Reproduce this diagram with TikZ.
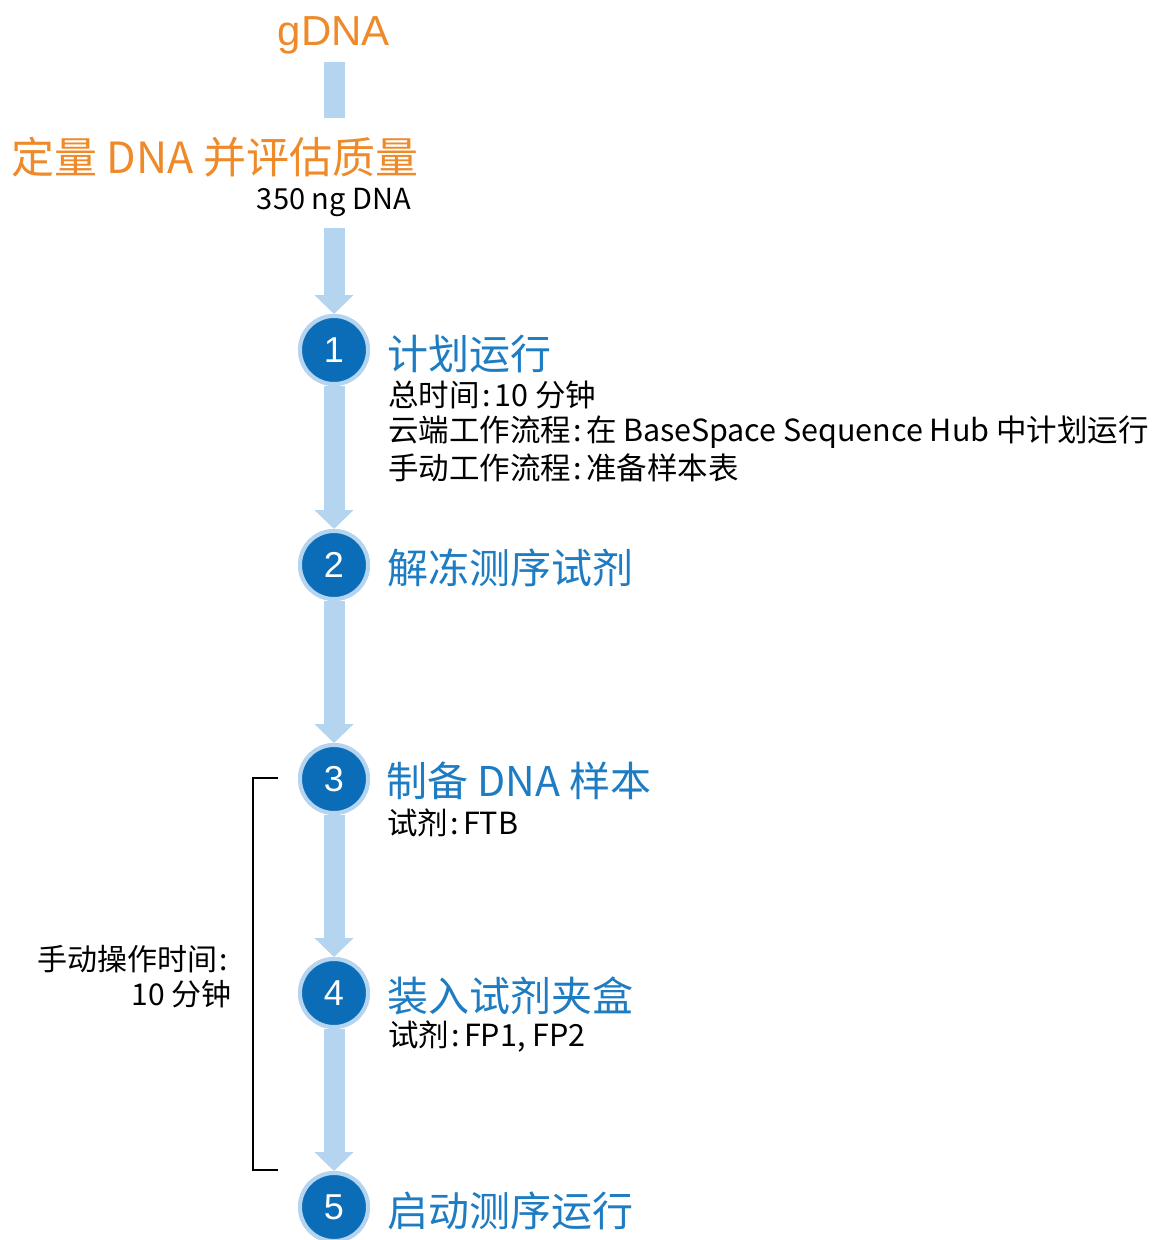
\documentclass[tikz,border=0pt]{standalone}
\usepackage{fontspec}
\setmainfont{Noto Sans CJK SC}
\newfontfamily\arialf{Liberation Sans}
\usetikzlibrary{arrows.meta}
\definecolor{orng}{HTML}{EE8A2A}
\definecolor{dblue}{HTML}{0B6DB7}
\definecolor{lblue}{HTML}{B5D4EF}
\definecolor{tblue}{HTML}{1E7CC2}
\newcommand{\ncolon}{\kern0.09em:\kern0.12em}
\tikzset{
  stepcircle/.style={circle, fill=dblue, draw=lblue, line width=4pt, minimum size=68pt, inner sep=0pt, text=white, font=\arialf\fontsize{36}{38}\selectfont},
  shaft/.style={draw=lblue, line width=21pt},
  shaftarrow/.style={shaft, -{Triangle[width=38pt,length=19pt]}},
  titletext/.style={anchor=west, inner sep=0pt, text=tblue, font=\fontsize{41}{44}\selectfont},
  subtext/.style={anchor=west, inner sep=0pt, text=black, font=\fontsize{30.5}{32}\selectfont},
  sidetext/.style={anchor=east, inner sep=0pt, text=black, font=\fontsize{30}{32}\selectfont},
  bracketline/.style={draw=black, line width=1.6pt}
}
\begin{document}
\begin{tikzpicture}[x=1pt,y=-1pt]
\useasboundingbox (0,0) rectangle (1153,1240);
\clip (0,0) rectangle (1153,1240);
% top
\node[inner sep=0pt, text=orng, font=\arialf\fontsize{42}{44}\selectfont] (gdna) at (334,35) {gDNA};
\node[anchor=west, inner sep=0pt, text=orng, font=\fontsize{43}{46}\selectfont] (qual) at (11,157) {定量 DNA 并评估质量};
\node[anchor=east, inner sep=0pt, text=black, font=\fontsize{29}{32}\selectfont] (amt) at (411,202) {350 ng DNA};
\coordinate (b1) at (334,62);
\coordinate (b2) at (334,118);
\coordinate (b3) at (334,228);
% circle positions
\node[stepcircle] (c1) at (334,350) {1};
\node[stepcircle] (c2) at (334,565) {2};
\node[stepcircle] (c3) at (334,779) {3};
\node[stepcircle] (c4) at (334,993) {4};
\node[stepcircle] (c5) at (334,1207) {5};
% connectors
\draw[shaft] (b1) -- (b2);
\draw[shaftarrow] (b3) -- (c1.north);
\draw[shaftarrow] (c1.south) -- (c2.north);
\draw[shaftarrow] (c2.south) -- (c3.north);
\draw[shaftarrow] (c3.south) -- (c4.north);
\draw[shaftarrow] (c4.south) -- (c5.north);
% circles on top of connectors
\node[stepcircle] at (c1) {1};
\node[stepcircle] at (c2) {2};
\node[stepcircle] at (c3) {3};
\node[stepcircle] at (c4) {4};
\node[stepcircle] at (c5) {5};
% titles
\node[titletext] (t1) at (387,354) {计划运行};
\node[subtext] (s1a) at (388,395) {总时间\ncolon 10 分钟};
\node[subtext] (s1b) at (388,432) {云端工作流程\ncolon 在 BaseSpace Sequence Hub 中计划运行};
\node[subtext] (s1c) at (388,468) {手动工作流程\ncolon 准备样本表};
\node[titletext] (t2) at (387,568) {解冻测序试剂};
\node[titletext] (t3) at (386,781) {制备 DNA 样本};
\node[subtext] (s3) at (387,823) {试剂\ncolon FTB};
\node[titletext] (t4) at (387,996) {装入试剂夹盒};
\node[subtext] (s4) at (388,1037) {试剂\ncolon FP1, FP2};
\node[titletext] (t5) at (387,1211) {启动测序运行};
% bracket
\coordinate (k1) at (278,778);
\coordinate (k2) at (253,778);
\coordinate (k3) at (253,1170);
\coordinate (k4) at (278,1170);
\draw[bracketline] (k1) -- (k2) -- (k3) -- (k4);
\node[sidetext] (m1) at (232,959) {手动操作时间\ncolon};
\node[sidetext] (m2) at (232,994) {10 分钟};
\end{tikzpicture}
\end{document}
